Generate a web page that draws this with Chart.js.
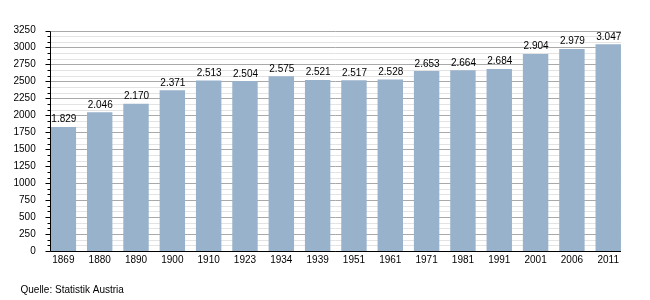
<!DOCTYPE html>
<html lang="de">
<head>
<meta charset="utf-8">
<title>Bevölkerungsentwicklung</title>
<script src="https://cdn.jsdelivr.net/npm/chart.js@4.4.1/dist/chart.umd.min.js"></script>
<style>
    body { margin: 0; background: #fff; }
    #grafik { display: block; }
</style>
</head>
<body>
<canvas id="grafik" width="650" height="300"></canvas>
<script>
const jahre = ['1869', '1880', '1890', '1900', '1910', '1923', '1934', '1939', '1951', '1961', '1971', '1981', '1991', '2001', '2006', '2011'];
const einwohner = [1829, 2046, 2170, 2371, 2513, 2504, 2575, 2521, 2517, 2528, 2653, 2664, 2684, 2904, 2979, 3047];
const yTicks = [0, 250, 500, 750, 1000, 1250, 1500, 1750, 2000, 2250, 2500, 2750, 3000, 3250];
const quelle = 'Quelle: Statistik Austria';

function formatiere(zahl) {
    return String(zahl).replace(/\B(?=(\d{3})+(?!\d))/g, '.');
}

// Gitter, Achsen und kleine Striche selbst zeichnen, damit sie an den Balken anliegen
const gitterPlugin = {
    id: 'gitter',
    beforeDatasetsDraw(chart) {
        const ctx = chart.ctx;
        const y = chart.scales.y;
        const balken = chart.getDatasetMeta(0).data;
        const links = Math.round(balken[0].x - balken[0].width / 2) - 0.5;
        const rechts = Math.round(balken[balken.length - 1].x + balken[balken.length - 1].width / 2);
        const schritt = (yTicks[1] - yTicks[0]) / 3;
        const max = yTicks[yTicks.length - 1];

        ctx.save();
        ctx.lineWidth = 1;
        for (let i = 0; i * schritt <= max + 0.01; i++) {
            const py = Math.round(y.getPixelForValue(i * schritt)) + 0.5;
            const haupt = i % 3 === 0;
            ctx.strokeStyle = haupt ? '#a9a9a9' : '#e3e3e3';
            ctx.beginPath();
            ctx.moveTo(links, py);
            ctx.lineTo(rechts, py);
            ctx.stroke();
            ctx.strokeStyle = '#000';
            ctx.beginPath();
            ctx.moveTo(links - (haupt ? 5 : 3), py);
            ctx.lineTo(links, py);
            ctx.stroke();
        }
        ctx.restore();
    },
    afterDatasetsDraw(chart) {
        const ctx = chart.ctx;
        const y = chart.scales.y;
        const balken = chart.getDatasetMeta(0).data;
        const links = Math.round(balken[0].x - balken[0].width / 2) - 0.5;
        const rechts = Math.round(balken[balken.length - 1].x + balken[balken.length - 1].width / 2);
        const null_y = Math.round(y.getPixelForValue(0)) + 0.5;
        const oben = Math.round(y.getPixelForValue(yTicks[yTicks.length - 1])) + 0.5;

        ctx.save();
        ctx.strokeStyle = '#000';
        ctx.lineWidth = 1;
        ctx.beginPath();
        ctx.moveTo(links, oben);
        ctx.lineTo(links, null_y);
        ctx.lineTo(rechts, null_y);
        ctx.stroke();

        // Werte über den Balken
        ctx.fillStyle = '#000';
        ctx.font = '10px "Liberation Sans", Arial, sans-serif';
        ctx.textAlign = 'center';
        ctx.textBaseline = 'alphabetic';
        balken.forEach((b, i) => {
            ctx.fillText(formatiere(einwohner[i]), b.x + 0.5, b.y - 4.5);
        });

        // Quelle
        ctx.textAlign = 'left';
        ctx.font = '10px "Liberation Sans", Arial, sans-serif';
        ctx.fillText(quelle, 20.5, 293);
        ctx.restore();
    }
};

function erstelleGrafik() {
    const ctx = document.getElementById('grafik').getContext('2d');

    window.grafik = new Chart(ctx, {
        type: 'bar',
        data: {
            labels: jahre,
            datasets: [{
                label: 'Einwohner',
                data: einwohner,
                backgroundColor: '#98b2cb',
                borderWidth: 0,
                barPercentage: 0.7,
                categoryPercentage: 1.0
            }]
        },
        options: {
            responsive: false,
            animation: false,
            layout: {
                padding: { top: 30.5, right: 23.6, bottom: 29, left: 0 }
            },
            plugins: {
                legend: { display: false },
                tooltip: { enabled: false }
            },
            scales: {
                x: {
                    grid: { display: false, drawTicks: false },
                    border: { display: false },
                    ticks: {
                        color: '#000',
                        padding: 3,
                        maxRotation: 0,
                        font: { family: '"Liberation Sans", Arial, sans-serif', size: 10 }
                    },
                    afterFit(scale) { scale.height = 20; }
                },
                y: {
                    min: yTicks[0],
                    max: yTicks[yTicks.length - 1],
                    grid: { display: false, drawTicks: false },
                    border: { display: false },
                    afterBuildTicks(scale) {
                        scale.ticks = yTicks.map(v => ({ value: v }));
                    },
                    ticks: {
                        color: '#000',
                        padding: 9.5,
                        callback: value => String(value),
                        font: { family: '"Liberation Sans", Arial, sans-serif', size: 10 }
                    },
                    afterFit(scale) { scale.width = 45.2; }
                }
            }
        },
        plugins: [gitterPlugin]
    });
}

window.addEventListener('DOMContentLoaded', erstelleGrafik);
</script>
</body>
</html>
